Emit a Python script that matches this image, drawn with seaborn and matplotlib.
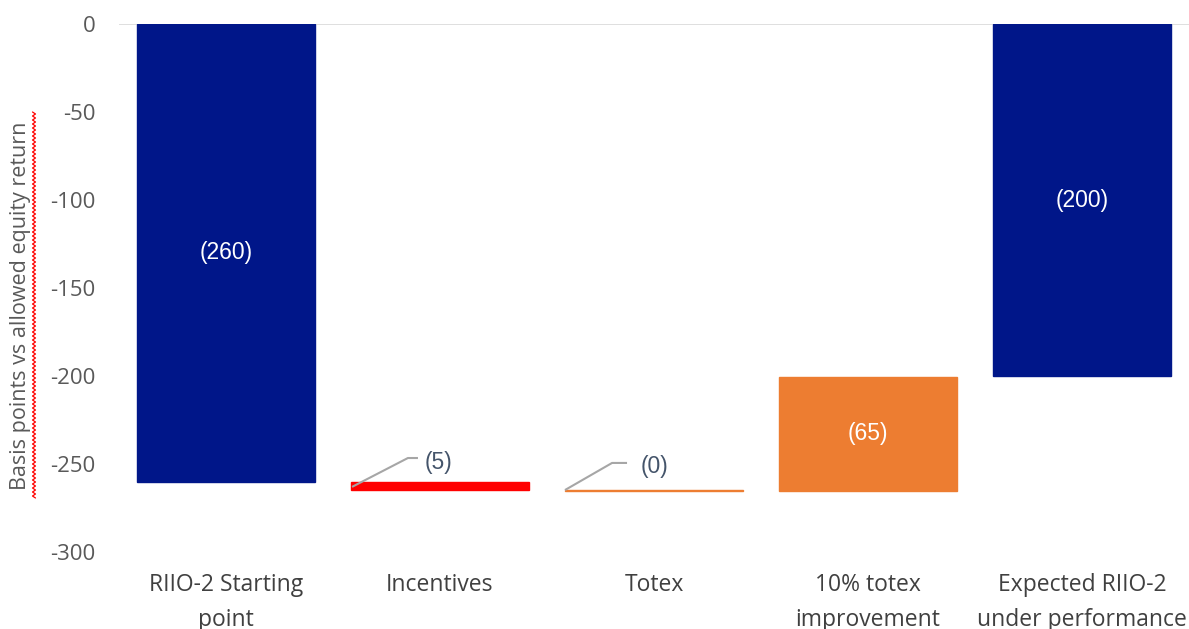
import numpy as np
import pandas as pd
import matplotlib
matplotlib.use("Agg")
import matplotlib.pyplot as plt
from matplotlib.lines import Line2D
import seaborn as sns

categories = ["RIIO-2 Starting\npoint", "Incentives", "Totex", "10% totex\nimprovement",
              "Expected RIIO-2\nunder performance"]
changes = [-260, -5, -0.45, 65, -200]
is_total = [True, False, False, False, True]
value_labels = ["(260)", "(5)", "(0)", "(65)", "(200)"]
bar_colors = ["#001689", "#FF0000", "#ED7D31", "#ED7D31", "#001689"]
yticks = [0, -50, -100, -150, -200, -250, -300]

# waterfall bottoms
bottoms = []
running = 0.0
for c, tot in zip(changes, is_total):
    if tot:
        bottoms.append(0.0)
        running = c
    else:
        bottoms.append(running)
        running = running + c

sns.set_theme(style="white")
plt.rcParams["font.family"] = ["Open Sans", "DejaVu Sans"]

fig = plt.figure(figsize=(11.89, 6.29), dpi=100)
ax = fig.add_axes([119 / 1189, 1 - 552 / 629, 1 - 119 / 1189, (552 - 24) / 629])

ax.axhline(0, color="#D9D9D9", lw=1.2, zorder=0)
for cat, h, b, col in zip(categories, changes, bottoms, bar_colors):
    sns.barplot(x=[cat], y=[h], bottom=b, order=categories, color=col, saturation=1,
                width=0.83, ax=ax, errorbar=None, edgecolor=col, linewidth=1.0, zorder=2)

ax.set_ylim(-300, 0)
ax.set_xlim(-0.5, 4.5)
ax.set_yticks(yticks)
ax.set_yticklabels([str(t) for t in yticks], fontsize=16, color="#595959")
ax.tick_params(axis="y", length=0, pad=17)
ax.tick_params(axis="x", length=0, pad=15)
ax.set_xticks(range(len(categories)))
ax.set_xticklabels(categories, fontsize=16.5, color="#404040", linespacing=1.62)
for s in ax.spines.values():
    s.set_visible(False)
ax.set_xlabel("")
ax.set_ylabel("")

# inside labels
lab_font = ["Liberation Sans", "DejaVu Sans"]
for i in [0, 3, 4]:
    mid = bottoms[i] + changes[i] / 2
    ax.text(i, mid, value_labels[i], ha="center", va="center", color="white", fontsize=16.5,
            family=lab_font)

# callout labels with leader lines
lead_col = "#A6A6A6"
ax.plot([0.589, 0.850, 0.897], [-263.0, -246.6, -246.6], color=lead_col, lw=1.5, zorder=3,
        solid_capstyle="butt")
ax.text(0.926, -248.9, value_labels[1], ha="left", va="center", color="#44546A", fontsize=16.5,
        family=lab_font)
ax.plot([1.584, 1.804, 1.874], [-264.8, -249.4, -249.4], color=lead_col, lw=1.5, zorder=3,
        solid_capstyle="butt")
ax.text(1.939, -251.7, value_labels[2], ha="left", va="center", color="#44546A", fontsize=16.5,
        family=lab_font)

# y axis title
fig.text(21 / 1189, 1 - 306 / 629, "Basis points vs allowed equity return", rotation=90,
         ha="center", va="center", fontsize=15.5, color="#595959")
# spell-check squiggle
ys = np.arange(112, 500, 2.0)
xs = 34 + np.where((np.arange(len(ys)) % 2) == 0, -1.5, 1.5)
fig.add_artist(Line2D(xs / 1189, 1 - ys / 629, color="#FF0000", lw=0.9,
                      transform=fig.transFigure))

fig.savefig("out.png", dpi=100)
